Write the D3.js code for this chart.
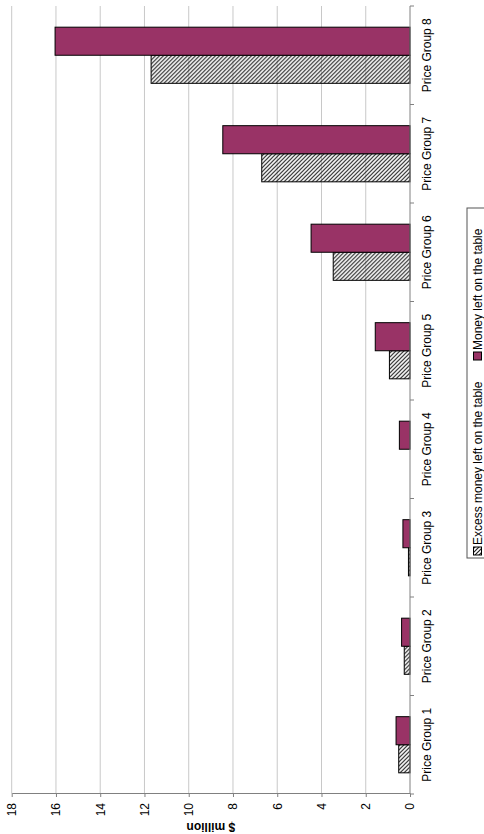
<!DOCTYPE html>
<html>
<head>
<meta charset="utf-8">
<script src="https://cdn.jsdelivr.net/npm/d3@7"></script>
<style>
  body { margin: 0; background: #fff; }
  svg { display: block; font-family: Arial, "Liberation Sans", sans-serif; }
</style>
</head>
<body>
<div id="chart"></div>
<script>
const categories = ["Price Group 1", "Price Group 2", "Price Group 3", "Price Group 4",
                    "Price Group 5", "Price Group 6", "Price Group 7", "Price Group 8"];
const seriesNames = ["Excess money left on the table", "Money left on the table"];
const excessValues = [0.51, 0.26, 0.07, 0, 0.93, 3.47, 6.7, 11.7];
const moneyValues = [0.63, 0.38, 0.32, 0.48, 1.57, 4.47, 8.46, 16.04];
const valueTicks = [0, 2, 4, 6, 8, 10, 12, 14, 16, 18];

const data = categories.map((c, i) => ({
  category: c,
  values: [
    { key: seriesNames[0], value: excessValues[i] },
    { key: seriesNames[1], value: moneyValues[i] }
  ]
}));

const W = 834, H = 484;   // chart is drawn landscape, then turned on its side
const svg = d3.select("#chart").append("svg")
  .attr("width", 484)
  .attr("height", 834);

const defs = svg.append("defs");
defs.append("pattern")
  .attr("id", "hatch")
  .attr("patternUnits", "userSpaceOnUse")
  .attr("width", 4)
  .attr("height", 4)
  .append("path")
  .attr("d", "M0,0 L4,4 M-1,3 L1,5 M3,-1 L5,1")
  .attr("stroke", "#222")
  .attr("stroke-width", 1.2);

const g = svg.append("g")
  .attr("transform", `translate(0,${W}) rotate(-90)`);

const plot = { left: 40, right: 828, top: 11.7, bottom: 410 };

const x0 = d3.scaleBand()
  .domain(categories)
  .range([plot.left, plot.right])
  .paddingInner(0.43)
  .paddingOuter(0.215);

const x1 = d3.scaleBand()
  .domain(seriesNames)
  .range([0, x0.bandwidth()]);

const y = d3.scaleLinear()
  .domain([0, 18])
  .range([plot.bottom, plot.top]);

const color = d3.scaleOrdinal()
  .domain(seriesNames)
  .range(["url(#hatch)", "#993366"]);

// gridlines
g.append("g")
  .selectAll("line")
  .data(valueTicks.filter(d => d > 0))
  .enter()
  .append("line")
  .attr("x1", plot.left)
  .attr("x2", plot.right)
  .attr("y1", d => y(d))
  .attr("y2", d => y(d))
  .attr("stroke", "#c8c8c8")
  .attr("stroke-width", 1);

// bars
g.append("g")
  .selectAll("g")
  .data(data)
  .enter()
  .append("g")
  .attr("transform", d => `translate(${x0(d.category)},0)`)
  .selectAll("rect")
  .data(d => d.values)
  .enter()
  .append("rect")
  .attr("x", d => x1(d.key))
  .attr("width", x1.bandwidth())
  .attr("y", d => y(d.value))
  .attr("height", d => y(0) - y(d.value))
  .attr("fill", d => color(d.key))
  .attr("stroke", "#000")
  .attr("stroke-width", 1);

// value axis
const yAxis = g.append("g")
  .attr("transform", `translate(${plot.left},0)`)
  .call(d3.axisLeft(y).tickValues(valueTicks).tickSize(3).tickSizeOuter(0).tickPadding(6));
yAxis.select(".domain").attr("stroke", "#808080");
yAxis.selectAll(".tick line").attr("stroke", "#808080");
yAxis.selectAll(".tick text")
  .style("font-size", "12px")
  .attr("fill", "#000");

// category axis
const xAxis = g.append("g")
  .attr("transform", `translate(0,${plot.bottom})`)
  .call(d3.axisBottom(x0).tickSize(0).tickPadding(12));
xAxis.select(".domain").remove();
xAxis.selectAll(".tick text")
  .style("font-size", "12px")
  .attr("fill", "#000");

const step = x0.step();
const boundaries = d3.range(categories.length + 1).map(i => plot.left + i * step);
g.append("line")
  .attr("x1", plot.left)
  .attr("x2", plot.right)
  .attr("y1", plot.bottom)
  .attr("y2", plot.bottom)
  .attr("stroke", "#808080");
g.append("g")
  .selectAll("line")
  .data(boundaries)
  .enter()
  .append("line")
  .attr("x1", d => d)
  .attr("x2", d => d)
  .attr("y1", plot.bottom)
  .attr("y2", plot.bottom + 4)
  .attr("stroke", "#808080");

// value axis title
g.append("text")
  .attr("transform", `translate(7,${(plot.top + plot.bottom) / 2}) rotate(-90)`)
  .attr("text-anchor", "middle")
  .attr("dy", "0.35em")
  .style("font-size", "12px")
  .style("font-weight", "bold")
  .text("$ million");

// legend
const legend = g.append("g");
legend.append("rect")
  .attr("x", 276)
  .attr("y", 467)
  .attr("width", 350)
  .attr("height", 30)
  .attr("fill", "#fff")
  .attr("stroke", "#555");

const legendX = [279, 474];
seriesNames.forEach((s, i) => {
  legend.append("rect")
    .attr("x", legendX[i])
    .attr("y", 473.5)
    .attr("width", 8)
    .attr("height", 8)
    .attr("fill", color(s))
    .attr("stroke", "#000");
  legend.append("text")
    .attr("x", legendX[i] + 10)
    .attr("y", 482)
    .style("font-size", "12px")
    .text(s);
});
</script>
</body>
</html>
